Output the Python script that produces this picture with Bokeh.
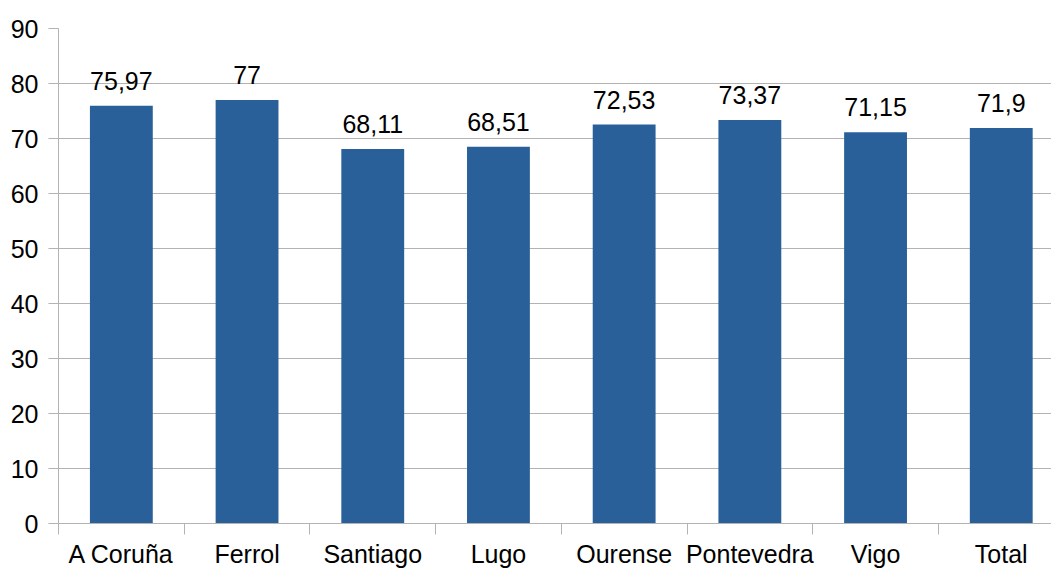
from bokeh.plotting import figure
from bokeh.models import ColumnDataSource, Range1d, FixedTicker
from bokeh.core.properties import value
from bokeh.embed import file_html
from bokeh.resources import INLINE

categories = ["A Coruña", "Ferrol", "Santiago", "Lugo", "Ourense", "Pontevedra", "Vigo", "Total"]
values = [75.97, 77, 68.11, 68.51, 72.53, 73.37, 71.15, 71.9]
y_ticks = [0, 10, 20, 30, 40, 50, 60, 70, 80, 90]

xs = [i + 0.5 for i in range(len(categories))]
labels = [f"{v:g}".replace(".", ",") for v in values]
src = ColumnDataSource(dict(x=xs, top=values, label=labels))

FONT = "Liberation Sans"
GRID = "#b3b3b3"
BAR = "#2a6099"

p = figure(width=1051, height=570, output_backend="svg", toolbar_location=None,
           x_range=Range1d(0, (1051 - 58) / 125.7), y_range=Range1d(0, 90),
           min_border_left=58, min_border_right=0, min_border_top=28, min_border_bottom=0,
           background_fill_color="white", border_fill_color="white")
p.outline_line_color = None

p.vbar(x="x", top="top", bottom=0, width=0.5, source=src, fill_color=BAR, line_color=None)
p.text(x="x", y="top", text="label", source=src, text_align="center", text_baseline="alphabetic",
       y_offset=-25, text_font=value(FONT), text_font_size="25px", text_color="black")

# x axis: labels at category centers, boundary ticks as minor ticks
xa = p.xaxis[0]
xa.ticker = FixedTicker(ticks=xs, minor_ticks=list(range(len(categories))))
xa.major_label_overrides = {x: c for x, c in zip(xs, categories)}
xa.major_tick_out = 0
xa.major_tick_in = 0
xa.minor_tick_out = 11
xa.minor_tick_in = 0
xa.minor_tick_line_color = GRID
xa.axis_line_color = GRID
xa.major_label_standoff = 5
xa.major_label_text_font = FONT
xa.major_label_text_font_size = "25px"
xa.major_label_text_color = "black"

ya = p.yaxis[0]
ya.ticker = FixedTicker(ticks=y_ticks)
ya.major_tick_out = 10
ya.major_tick_in = 0
ya.minor_tick_out = 0
ya.minor_tick_in = 0
ya.major_tick_line_color = GRID
ya.axis_line_color = GRID
ya.major_label_standoff = 10
ya.major_label_text_font = FONT
ya.major_label_text_font_size = "25px"
ya.major_label_text_color = "black"

p.xgrid.grid_line_color = None
p.ygrid.grid_line_color = GRID
p.ygrid.grid_line_width = 1

open("out.html", "w").write(file_html(p, INLINE))
